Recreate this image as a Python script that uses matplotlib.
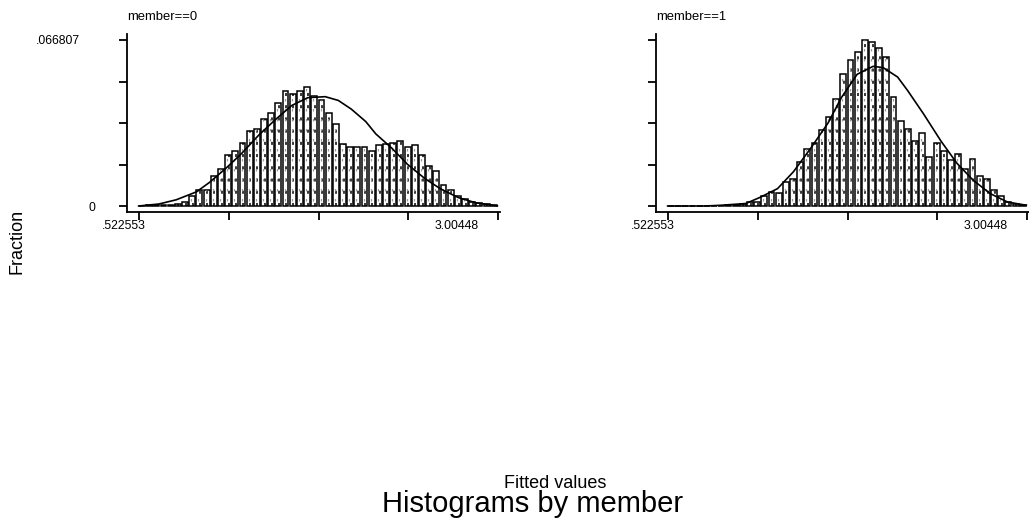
import numpy as np
import matplotlib
matplotlib.use('Agg')
from matplotlib import pyplot as plt

plt.rcParams['font.family'] = ['Liberation Sans', 'DejaVu Sans']

# range of fitted values and max fraction (from the axis labels)
xmin, xmax = 0.522553, 3.00448
ymax = 0.066807
nbins = 50

# fraction per bin, member==0
frac0 = [0.0002, 0.0004, 0.0005, 0.0006, 0.0006, 0.0010, 0.0015, 0.0042, 0.0065, 0.0065,
         0.0122, 0.0147, 0.0204, 0.0220, 0.0252, 0.0302, 0.0308, 0.0350, 0.0374, 0.0414,
         0.0464, 0.0452, 0.0464, 0.0480, 0.0444, 0.0428, 0.0375, 0.0330, 0.0248, 0.0236,
         0.0236, 0.0236, 0.0220, 0.0244, 0.0250, 0.0255, 0.0260, 0.0236, 0.0244, 0.0204,
         0.0162, 0.0139, 0.0083, 0.0065, 0.0042, 0.0030, 0.0016, 0.0014, 0.0010, 0.0004]

# fraction per bin, member==1
frac1 = [0.0, 0.0, 0.0, 0.0, 0.0, 0.0, 0.0002, 0.0002, 0.0003, 0.0006,
         0.0008, 0.0016, 0.0018, 0.0040, 0.0057, 0.0053, 0.0098, 0.0107, 0.0179, 0.0229,
         0.0254, 0.0304, 0.0358, 0.0430, 0.0530, 0.0587, 0.0620, 0.0668, 0.0659, 0.0634,
         0.0600, 0.0440, 0.0342, 0.0311, 0.0261, 0.0295, 0.0196, 0.0254, 0.0223, 0.0186,
         0.0211, 0.0150, 0.0190, 0.0122, 0.0109, 0.0064, 0.0041, 0.0016, 0.0010, 0.0006]

# normal curve overlay
curve0_x = [0.52, 0.66, 0.78, 0.92, 1.01, 1.12, 1.23, 1.35, 1.47, 1.58, 1.69, 1.81,
            1.90, 1.99, 2.09, 2.16, 2.27, 2.38, 2.50, 2.61, 2.73, 2.85, 2.97, 3.00]
curve0_y = [0.0000, 0.0008, 0.0025, 0.0057, 0.0095, 0.0150, 0.0210, 0.0285, 0.0350, 0.0405,
            0.0436, 0.0440, 0.0425, 0.0390, 0.0340, 0.0290, 0.0233, 0.0167, 0.0110, 0.0068,
            0.0034, 0.0013, 0.0003, 0.0000]
curve1_x = [0.52, 0.78, 0.89, 1.06, 1.16, 1.28, 1.39, 1.51, 1.63, 1.72, 1.83, 1.94,
            2.01, 2.11, 2.18, 2.29, 2.41, 2.52, 2.63, 2.75, 2.87, 3.00]
curve1_y = [0.0000, 0.0000, 0.0003, 0.0010, 0.0035, 0.0070, 0.0138, 0.0233, 0.0335, 0.0435,
            0.0530, 0.0562, 0.0557, 0.0519, 0.0464, 0.0370, 0.0261, 0.0172, 0.0105, 0.0050,
            0.0016, 0.0003]

W, H = 1029, 521
fig = plt.figure(figsize=(W/100, H/100), dpi=100)


def px_axes(left, top, right, bottom):
    return fig.add_axes([left/W, 1 - bottom/H, (right - left)/W, (bottom - top)/H])


def px_text(x, y, s, **kw):
    fig.text(x/W, 1 - y/H, s, **kw)


edges = np.linspace(xmin, xmax, nbins + 1)
bw = edges[1] - edges[0]
span = xmax - xmin

panels = [
    (127, 'member==0', frac0, curve0_x, curve0_y, True),
    (656, 'member==1', frac1, curve1_x, curve1_y, False),
]

for left, title, frac, cx, cy, ylabels in panels:
    ax = px_axes(left, 34, left + 373, 212)
    # 12 px gap before the first tick, ~2 px after the last one
    ax.set_xlim(xmin - span*12/359, xmax + span*2/359)
    ax.set_ylim(-ymax*6/166, ymax + ymax*6/166)

    ax.bar(edges[:-1], frac, width=bw*0.82, align='edge', facecolor='white',
           edgecolor='black', linewidth=1.1, zorder=2)
    centers = edges[:-1] + bw*0.5
    ax.vlines(centers, 0, frac, colors='black', linestyles=(0, (2, 6)),
              linewidth=1.1, zorder=3)
    ax.vlines(centers - bw*0.22, 0, frac, colors='#9a9a9a', linestyles=(4, (2, 6)),
              linewidth=0.9, zorder=3)
    ax.plot(cx, cy, color='black', linewidth=1.2, zorder=4)

    for s in ['top', 'right']:
        ax.spines[s].set_visible(False)
    for s in ['left', 'bottom']:
        ax.spines[s].set_linewidth(1.3)

    ax.set_xticks(np.linspace(xmin, xmax, 5))
    ax.set_yticks(np.linspace(0, ymax, 5))
    ax.set_xticklabels([])
    ax.set_yticklabels([])
    ax.tick_params(length=6, width=1.3, direction='out')

    px_text(left, 17, title, fontsize=9.4, ha='left', va='center')
    px_text(left - 3, 226, '.522553', fontsize=8.8, ha='center', va='center')
    px_text(left + 330, 226, '3.00448', fontsize=8.8, ha='center', va='center')
    if ylabels:
        px_text(80, 41, '.066807', fontsize=8.8, ha='right', va='center')
        px_text(95, 208, '0', fontsize=8.8, ha='right', va='center')

px_text(17, 241, 'Fraction', fontsize=13, rotation=90, ha='center', va='center')
px_text(555, 488, 'Fitted values', fontsize=13, ha='center', va='baseline')
px_text(533, 512, 'Histograms by member', fontsize=21, ha='center', va='baseline')

fig.savefig('out.png', dpi=100)
